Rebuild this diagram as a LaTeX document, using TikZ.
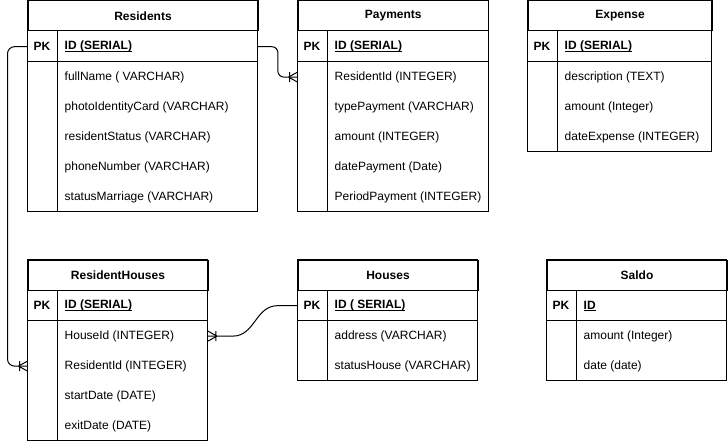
\documentclass[tikz,border=0pt]{standalone}
\usepackage{fontspec}
\setmainfont{Liberation Sans}
\usetikzlibrary{calc}
\newcommand\erul[1]{\setbox0\hbox{#1}\rlap{\rule[-1.6pt]{\wd0}{0.8pt}}\box0}
\newcommand\erfnt{\fontsize{12}{14}\selectfont}
\tikzset{
  erline/.style={line width=1pt, draw=black},
  erhead/.style={draw, line width=1pt, minimum height=30pt, inner sep=0pt, font=\erfnt\bfseries},
  errow/.style={minimum height=30pt, inner sep=0pt},
  erfield/.style={anchor=west, inner sep=0pt, font=\erfnt},
  erpk/.style={inner sep=0pt, font=\erfnt\bfseries},
  crow/.pic={\draw[erline] (-9,0) -- (0,-5) (-9,0) -- (0,5) (-8,-5) -- (-8,5);}
}
% #1 name, #2 x, #3 y, #4 width, #5 title, #6 pk, #7 rows, #8 number of rows
\newcommand\ertable[8]{%
  \node[erhead, minimum width=#4pt, anchor=north west] (#1) at (#2,#3) {#5};
  \node[errow, minimum width=#4pt, anchor=north west] (#1-pk) at (#1.south west) {};
  \draw[erline] (#1-pk.south west) -- (#1-pk.south east);
  \node[erpk] at ([xshift=14.5pt]#1-pk.west) {PK};
  \node[erfield, font=\erfnt\bfseries] at ([xshift=37pt]#1-pk.west) {\erul{#6}};
  \foreach \t [count=\i] in {#7} {
    \node[errow, minimum width=#4pt, anchor=north west] (#1-\i) at ([yshift={-30pt*(\i-1)}]#1-pk.south west) {};
    \node[erfield] at ([xshift=37pt]#1-\i.west) {\t};
  }
  \draw[erline] (#1.north west) rectangle ([yshift={-30pt*#8}]#1-pk.south east);
  \draw[erline] ([xshift=29.5pt]#1-pk.north west) -- ([xshift=29.5pt,yshift={-30pt*#8}]#1-pk.south west);
}
\begin{document}
\begin{tikzpicture}[x=1pt,y=-1pt]
\useasboundingbox (0,0) rectangle (728,441);
\fill[white] (0,0) rectangle (728,441);

\ertable{res}{27.5}{0.5}{230}{Residents}{ID (SERIAL)}{{fullName ( VARCHAR)},{photoIdentityCard (VARCHAR)},{residentStatus (VARCHAR)},{phoneNumber (VARCHAR)},{statusMarriage (VARCHAR)}}{5}
\ertable{pay}{297.5}{0.5}{190.5}{Payments}{ID (SERIAL)}{{ResidentId (INTEGER)},{typePayment (VARCHAR)},{amount (INTEGER)},{datePayment (Date)},{PeriodPayment (INTEGER)}}{5}
\ertable{exp}{527.5}{0.5}{184}{Expense}{ID (SERIAL)}{{description (TEXT)},{amount (Integer)},{dateExpense (INTEGER)}}{3}
\ertable{rh}{27.5}{259.5}{180}{ResidentHouses}{ID (SERIAL)}{{HouseId (INTEGER)},{ResidentId (INTEGER)},{startDate (DATE)},{exitDate (DATE)}}{4}
\ertable{hou}{297.5}{259.5}{180}{Houses}{ID ( SERIAL)}{{address (VARCHAR)},{statusHouse (VARCHAR)}}{2}
\ertable{sal}{546.5}{259.5}{180}{Saldo}{ID}{{amount (Integer)},{date (date)}}{2}

% connectors
\draw[erline, rounded corners=6pt] (res-pk.east) -- ++(20,0) |- (pay-1.west);
\pic at (pay-1.west) {crow};
\draw[erline, rounded corners=7pt] (res-pk.west) -- ++(-20,0) |- (rh-2.west);
\pic at (rh-2.west) {crow};
\draw[erline] (hou-pk.west) -- ++(-20,0) .. controls +(-22,0) and +(22,0) .. ([xshift=25pt]rh-1.east) -- (rh-1.east);
\pic[rotate=180] at (rh-1.east) {crow};
\end{tikzpicture}
\end{document}
